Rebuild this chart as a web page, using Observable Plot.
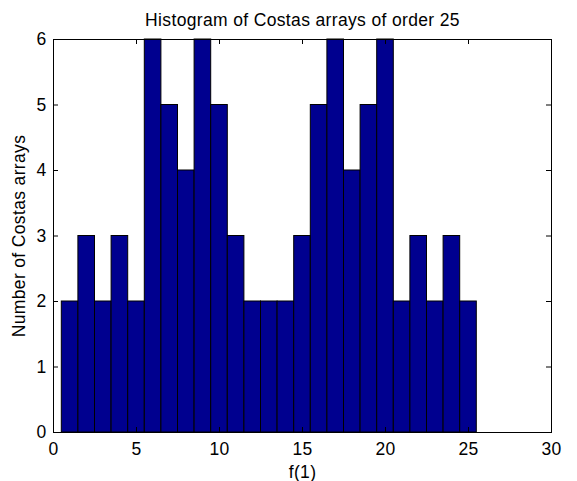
<!DOCTYPE html>
<html>
<head>
<meta charset="utf-8">
<script src="https://cdn.jsdelivr.net/npm/d3@7"></script>
<script src="https://cdn.jsdelivr.net/npm/@observablehq/plot@0.6"></script>
<style>
  html, body { margin: 0; padding: 0; background: #fff; }
  svg text { letter-spacing: 0.35px; }
</style>
</head>
<body>
<div id="chart"></div>
<script>
const titleText = "Histogram of Costas arrays of order 25";
const xLabel = "f(1)";
const yLabel = "Number of Costas arrays";
const bins = [1,2,3,4,5,6,7,8,9,10,11,12,13,14,15,16,17,18,19,20,21,22,23,24,25];
const counts = [2,3,2,3,2,6,5,4,6,5,3,2,2,2,3,5,6,4,5,6,2,3,2,3,2];
const xTicks = [0,5,10,15,20,25,30];
const yTicks = [0,1,2,3,4,5,6];

const data = bins.map((b, i) => ({bin: b, count: counts[i]}));

const W = 577, H = 481, mL = 53, mR = 26, mT = 39, mB = 49;
const plotW = W - mL - mR, plotH = H - mT - mB, tick = 5;
const FS = 17.5;

const chart = Plot.plot({
  width: W, height: H,
  marginLeft: mL, marginRight: mR, marginTop: mT, marginBottom: mB,
  style: {fontFamily: "'Liberation Sans', Arial, sans-serif", fontSize: "17.5px", color: "#000", background: "#fff"},
  x: {domain: [0, 30]},
  y: {domain: [0, 6]},
  marks: [
    Plot.rectY(data, {x1: d => d.bin - 0.5, x2: d => d.bin + 0.5, y: "count", fill: "#00008F", stroke: "#000", strokeWidth: 1}),
    Plot.tickX(xTicks, {x: d => d, insetTop: plotH - tick, stroke: "#000"}),
    Plot.tickX(xTicks, {x: d => d, insetBottom: plotH - tick, stroke: "#000"}),
    Plot.tickY(yTicks, {y: d => d, insetRight: plotW - tick, stroke: "#000"}),
    Plot.tickY(yTicks, {y: d => d, insetLeft: plotW - tick, stroke: "#000"}),
    Plot.frame({stroke: "#000", strokeWidth: 1}),
    Plot.axisX({ticks: xTicks, tickFormat: d3.format("d"), tickSize: 0, tickPadding: 10, fontSize: FS, label: xLabel, labelAnchor: "center", labelArrow: "none", labelOffset: 45}),
    Plot.axisY({ticks: yTicks, tickFormat: d3.format("d"), tickSize: 0, tickPadding: 7, fontSize: FS, label: yLabel, labelAnchor: "center", labelArrow: "none", labelOffset: 41}),
    Plot.text([titleText], {text: d => d, frameAnchor: "top", dy: -19, lineAnchor: "middle", fill: "#000", fontSize: FS})
  ]
});
document.getElementById("chart").appendChild(chart);
</script>
</body>
</html>
